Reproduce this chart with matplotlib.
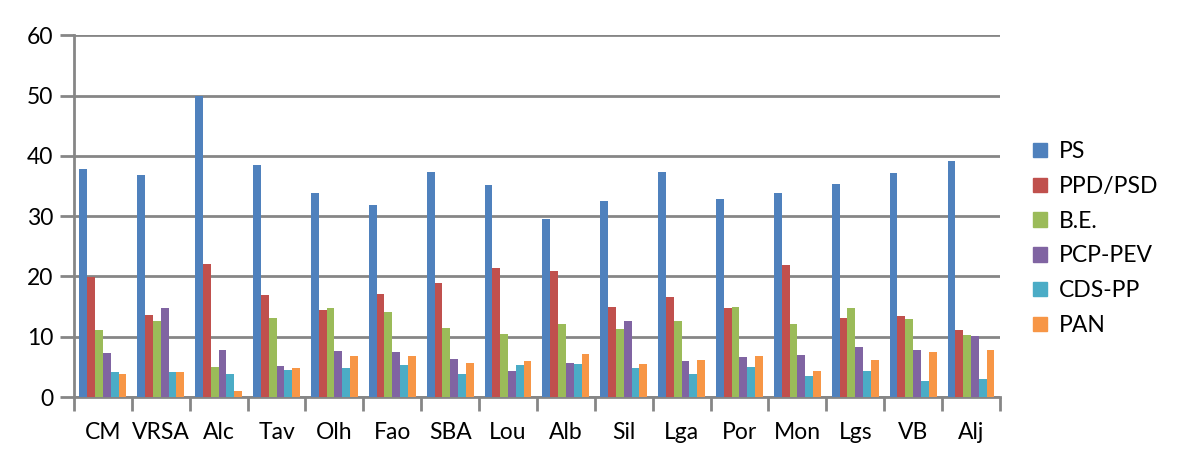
import numpy as np
from matplotlib import pyplot as plt
from matplotlib.patches import Patch

plt.rcParams['font.family'] = ['Lato', 'DejaVu Sans']

categories = ["CM", "VRSA", "Alc", "Tav", "Olh", "Fao", "SBA", "Lou",
              "Alb", "Sil", "Lga", "Por", "Mon", "Lgs", "VB", "Alj"]
series = ["PS", "PPD/PSD", "B.E.", "PCP-PEV", "CDS-PP", "PAN"]

ps = [37.9, 36.9, 50.0, 38.4, 33.9, 31.8, 37.3, 35.1, 29.5, 32.5, 37.4, 32.9, 33.9, 35.4, 37.1, 39.2]
ppd = [19.9, 13.6, 22.0, 16.9, 14.4, 17.1, 19.0, 21.4, 20.9, 14.9, 16.6, 14.7, 21.9, 13.2, 13.4, 11.1]
be = [11.1, 12.7, 5.0, 13.2, 14.7, 14.1, 11.4, 10.4, 12.1, 11.3, 12.7, 14.9, 12.1, 14.7, 12.9, 10.3]
pcp = [7.3, 14.7, 7.8, 5.1, 7.6, 7.4, 6.3, 4.3, 5.6, 12.7, 6.0, 6.6, 7.0, 8.3, 7.8, 10.1]
cds = [4.1, 4.1, 3.9, 4.5, 4.8, 5.3, 3.8, 5.3, 5.5, 4.8, 3.9, 5.0, 3.5, 4.3, 2.6, 3.0]
pan = [3.8, 4.1, 1.0, 4.8, 6.8, 6.8, 5.6, 6.0, 7.1, 5.5, 6.1, 6.8, 4.3, 6.1, 7.5, 7.8]

colors = ["#4F81BD", "#C0504D", "#9BBB59", "#8064A2", "#4BACC6", "#F79646"]
grid_col = "#868686"

fig = plt.figure(figsize=(11.84, 4.57), dpi=100)
ax = fig.add_axes([0.0625, 0.131, 0.782, 0.792])

x = np.arange(len(categories))
width = 0.135
data = [ps, ppd, be, pcp, cds, pan]
for i, vals in enumerate(data):
    ax.bar(x + (i - 2.5) * width, vals, width, color=colors[i], zorder=3)

ax.set_xlim(-0.5, len(categories) - 0.5)
ax.set_ylim(0, 60)
ax.set_yticks(range(0, 61, 10))
ax.yaxis.grid(True, color=grid_col, linewidth=2, zorder=0)

ax.set_xticks(x)
ax.set_xticklabels(categories, fontsize=16.5)
ax.set_xticks(np.arange(-0.5, len(categories)), minor=True)
ax.tick_params(axis='x', which='major', length=0, pad=18)
ax.tick_params(axis='x', which='minor', length=10, width=2, color=grid_col)
ax.tick_params(axis='y', length=10, width=2, color=grid_col, labelsize=16.5, pad=5)

for side in ['top', 'right']:
    ax.spines[side].set_visible(False)
for side in ['left', 'bottom']:
    ax.spines[side].set_color(grid_col)
    ax.spines[side].set_linewidth(2)

handles = [Patch(color=c, label=s) for c, s in zip(colors, series)]
fig.legend(handles=handles, loc='center left', bbox_to_anchor=(0.855, 0.478),
           frameon=False, fontsize=16.5, handlelength=0.6, handleheight=0.6,
           handletextpad=0.55, labelspacing=0.6)

fig.savefig("out.png", dpi=100)
